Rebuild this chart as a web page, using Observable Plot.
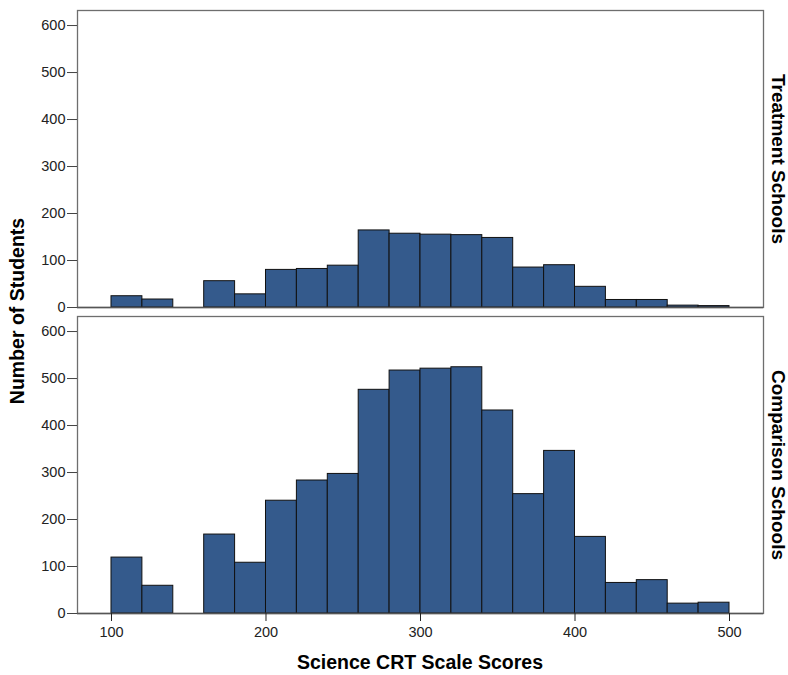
<!DOCTYPE html>
<html>
<head>
<meta charset="utf-8">
<script src="https://cdn.jsdelivr.net/npm/d3@7"></script>
<script src="https://cdn.jsdelivr.net/npm/@observablehq/plot@0.6"></script>
<style>
  html, body { margin: 0; padding: 0; background: #fff; }
  svg text { font-family: "Liberation Sans", Arial, sans-serif; }
</style>
</head>
<body>
<div id="chart"></div>
<script>
const groups = ["Treatment Schools", "Comparison Schools"];
const binStarts = [100,120,140,160,180,200,220,240,260,280,300,320,340,360,380,400,420,440,460,480];
const binWidth = 20;
const treatmentCounts = [24,17,0,56,28,80,82,89,164,157,155,154,148,85,90,44,16,16,4,3];
const comparisonCounts = [119,59,0,168,108,240,283,297,476,517,521,524,432,254,346,163,65,71,21,23];
const xTicks = [100,200,300,400,500];
const yTicks = [0,100,200,300,400,500,600];

const rows = [];
binStarts.forEach((b, i) => {
  if (treatmentCounts[i] > 0) rows.push({group: groups[0], x1: b, x2: b + binWidth, count: treatmentCounts[i]});
  if (comparisonCounts[i] > 0) rows.push({group: groups[1], x1: b, x2: b + binWidth, count: comparisonCounts[i]});
});
const labels = groups.map(g => ({group: g, label: g}));

const W = 788, H = 675;
const plot = Plot.plot({
  width: W,
  height: H,
  marginTop: 10,
  marginBottom: 62,
  marginLeft: 77,
  marginRight: 25,
  style: {fontFamily: "Liberation Sans, Arial, sans-serif", fontSize: "14.5px", color: "#222"},
  x: {domain: [78, 522], ticks: xTicks, label: null, tickSize: 8, tickPadding: 4},
  y: {domain: [0, 632], ticks: yTicks, label: null, tickSize: 10, tickPadding: 2},
  fy: {domain: groups, padding: 0.03, axis: null, label: null},
  marks: [
    Plot.frame({stroke: "#6e6e6e", strokeWidth: 1.3}),
    Plot.rectY(rows, {x1: "x1", x2: "x2", y: "count", fy: "group", fill: "#345a8c", stroke: "#111", strokeWidth: 1}),
    Plot.ruleY([0], {stroke: "#555", strokeWidth: 1.3}),
    Plot.axisY({ticks: yTicks, tickSize: 10, tickPadding: 2, stroke: "#444", label: null, fill: "#222", fontSize: 14.5}),
    Plot.axisX({ticks: xTicks, tickSize: 8, tickPadding: 5, stroke: "#222", label: null, fill: "#222", fontSize: 14.5}),
    Plot.text(labels, {fy: "group", text: "label", frameAnchor: "right", dx: 15, rotate: 90,
      fontWeight: "bold", fontSize: 19, fill: "#000", textAnchor: "middle"})
  ]
});

const svg = d3.select(plot);
svg.attr("overflow", "visible");
svg.append("text")
  .attr("transform", `translate(24, 311) rotate(-90)`)
  .attr("text-anchor", "middle")
  .attr("font-weight", "bold")
  .attr("font-size", 19.5)
  .attr("fill", "#000")
  .text("Number of Students");
svg.append("text")
  .attr("x", 420)
  .attr("y", 669)
  .attr("text-anchor", "middle")
  .attr("font-weight", "bold")
  .attr("font-size", 19.5)
  .attr("fill", "#000")
  .text("Science CRT Scale Scores");

document.getElementById("chart").appendChild(plot);
</script>
</body>
</html>
